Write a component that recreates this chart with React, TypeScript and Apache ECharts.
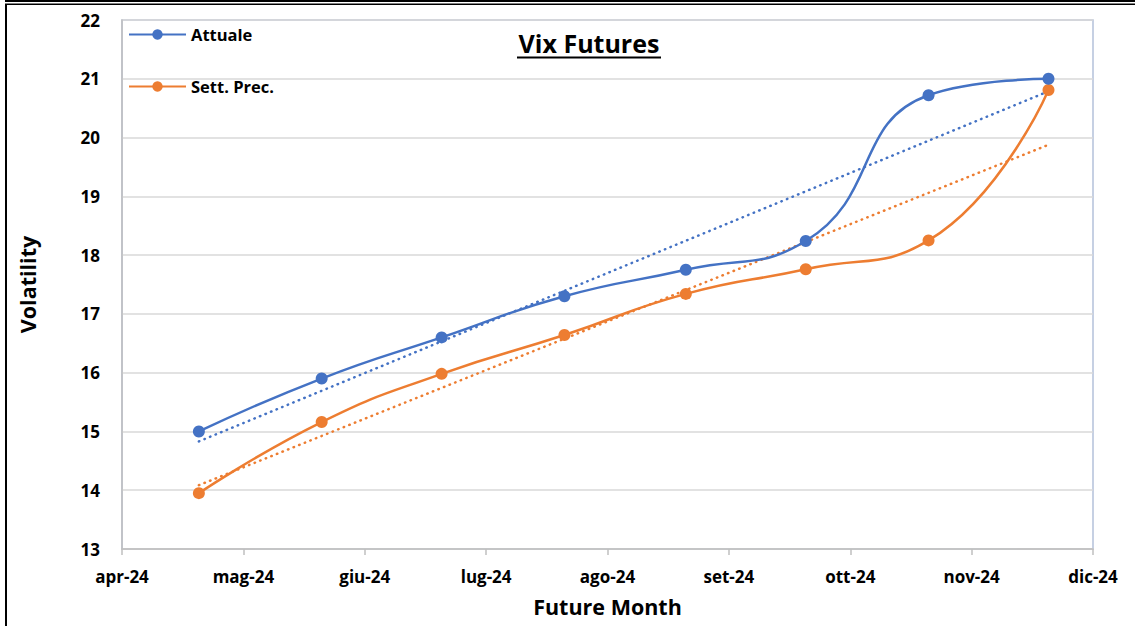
import React, { useEffect, useRef } from "react";
import * as echarts from "echarts";

const monthLabels = ["apr-24", "mag-24", "giu-24", "lug-24", "ago-24", "set-24", "ott-24", "nov-24", "dic-24"];
const expiryDates = ["2024-04-20", "2024-05-21", "2024-06-20", "2024-07-21", "2024-08-21", "2024-09-20", "2024-10-21", "2024-11-20"];
const attuale = [15.0, 15.9, 16.6, 17.3, 17.75, 18.24, 20.72, 21.0];
const settPrec = [13.95, 15.16, 15.98, 16.64, 17.34, 17.76, 18.25, 20.81];

const BLUE = "#4472C4";
const ORANGE = "#ED7D31";
const FONT = "'Open Sans', 'Noto Sans', sans-serif";

function dateToMonthIndex(s: string): number {
  const [y, m, d] = s.split("-").map(Number);
  const days = new Date(y, m, 0).getDate();
  return (y - 2024) * 12 + (m - 4) + (d - 1) / days;
}

function trend(xs: number[], ys: number[]): number[][] {
  const n = xs.length;
  const mx = xs.reduce((a, b) => a + b, 0) / n;
  const my = ys.reduce((a, b) => a + b, 0) / n;
  let sxy = 0, sxx = 0;
  for (let i = 0; i < n; i++) {
    sxy += (xs[i] - mx) * (ys[i] - my);
    sxx += (xs[i] - mx) * (xs[i] - mx);
  }
  const b = sxy / sxx;
  const a = my - b * mx;
  return [xs[0], xs[n - 1]].map((x) => [x, a + b * x]);
}

export default function App() {
  const ref = useRef<HTMLDivElement>(null);
  useEffect(() => {
    const chart = echarts.init(ref.current!, null, { renderer: "svg" });
    const xs = expiryDates.map(dateToMonthIndex);
    const lineData = (ys: number[]) => xs.map((x, i) => [x, ys[i]]);
    chart.setOption({
      animation: false,
      backgroundColor: "#ffffff",
      grid: {
        left: 122,
        right: 42,
        top: 20,
        bottom: 77,
        show: true,
        borderColor: "#B4C1DA",
        borderWidth: 1.5,
      },
      legend: {
        data: ["Attuale", "Sett. Prec."],
        orient: "vertical",
        left: 128,
        top: 26,
        padding: 0,
        itemWidth: 57,
        itemHeight: 13,
        itemGap: 35,
        textStyle: { fontFamily: FONT, fontWeight: "bold", fontSize: 16.5, color: "#000" },
      },
      xAxis: {
        type: "value",
        min: 0,
        max: 8,
        interval: 1,
        name: "Future Month",
        nameLocation: "middle",
        nameGap: 46,
        nameTextStyle: { fontFamily: FONT, fontWeight: "bold", fontSize: 21.5, color: "#000" },
        axisLine: { show: true, lineStyle: { color: "#BFBFBF", width: 1.5 } },
        axisTick: { show: true, length: 6, lineStyle: { color: "#BFBFBF", width: 1.5 } },
        splitLine: { show: false },
        axisLabel: {
          margin: 19,
          fontFamily: FONT,
          fontWeight: "bold",
          fontSize: 17,
          color: "#000",
          formatter: (v: number) => monthLabels[Math.round(v)] ?? "",
        },
      },
      yAxis: {
        type: "value",
        min: 13,
        max: 22,
        interval: 1,
        name: "Volatility",
        nameLocation: "middle",
        nameGap: 84,
        nameRotate: 90,
        nameTextStyle: { fontFamily: FONT, fontWeight: "bold", fontSize: 21.5, color: "#000" },
        axisLine: { show: true, lineStyle: { color: "#BFBFBF", width: 1.5 } },
        axisTick: { show: false },
        splitLine: { show: true, lineStyle: { color: "#D9D9D9", width: 1.5 } },
        axisLabel: { margin: 22, fontFamily: FONT, fontWeight: "bold", fontSize: 17, color: "#000" },
      },
      series: [
        {
          name: "Attuale",
          type: "line",
          data: lineData(attuale),
          smooth: 0.5,
          symbol: "circle",
          symbolSize: 12,
          color: BLUE,
          lineStyle: { width: 2.5, color: BLUE },
          itemStyle: { color: BLUE },
          z: 5,
        },
        {
          name: "Sett. Prec.",
          type: "line",
          data: lineData(settPrec),
          smooth: 0.5,
          symbol: "circle",
          symbolSize: 12,
          color: ORANGE,
          lineStyle: { width: 2.5, color: ORANGE },
          itemStyle: { color: ORANGE },
          z: 4,
        },
        {
          name: "Trend Attuale",
          type: "line",
          data: trend(xs, attuale),
          symbol: "none",
          lineStyle: { width: 2.5, color: BLUE, type: [0.5, 5.5], cap: "round" },
          z: 3,
        },
        {
          name: "Trend Sett. Prec.",
          type: "line",
          data: trend(xs, settPrec),
          symbol: "none",
          lineStyle: { width: 2.5, color: ORANGE, type: [0.5, 5.5], cap: "round" },
          z: 3,
        },
      ],
      graphic: [
        {
          type: "text",
          x: 589,
          y: 43,
          style: {
            text: "Vix Futures",
            fontFamily: FONT,
            fontWeight: "bold",
            fontSize: 25,
            fill: "#000",
            textAlign: "center",
            textVerticalAlign: "middle",
          },
        },
        { type: "line", shape: { x1: 517, y1: 57.5, x2: 661, y2: 57.5 }, style: { stroke: "#000", lineWidth: 2 } },
        { type: "rect", shape: { x: 5, y: 0, width: 1130, height: 2 }, style: { fill: "#000" } },
        { type: "rect", shape: { x: 7, y: 3.5, width: 1128, height: 1.5 }, style: { fill: "#000" } },
        { type: "rect", shape: { x: 5, y: 3.5, width: 2, height: 623 }, style: { fill: "#000" } },
      ],
    });
    return () => chart.dispose();
  }, []);
  return <div ref={ref} style={{ position: "fixed", left: 0, top: 0, width: 1135, height: 626 }} />;
}
